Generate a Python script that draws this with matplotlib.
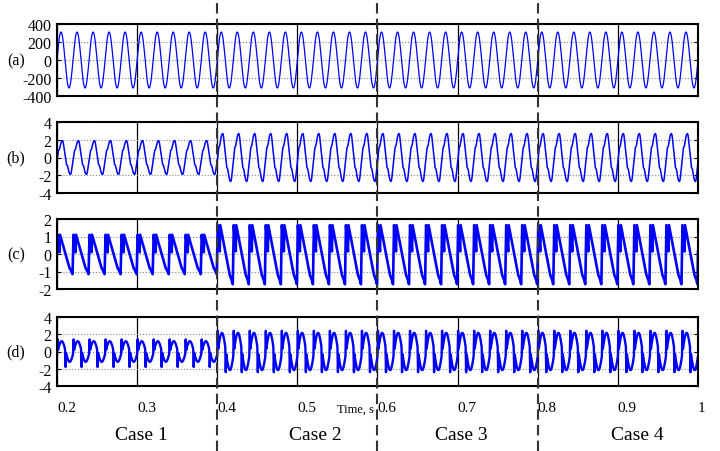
import numpy as np
import matplotlib
matplotlib.use('Agg')
import matplotlib.pyplot as plt
from matplotlib.lines import Line2D

# one 50 Hz cycle, 32 samples (case 1 shape)
f0 = 50.0
spc = 32
ncyc = 40
va_cycle = [0, 61, 119, 173, 220, 258, 287, 305, 311, 305, 287, 258, 220, 173, 119, 61,
            0, -61, -119, -173, -220, -258, -287, -305, -311, -305, -287, -258, -220, -173, -119, -61]
ib_cycle = [-0.35, 0, 0.45, 0.8, 0.85, 0.95, 1.2, 1.45, 1.65, 1.8, 1.88, 1.9, 1.8, 1.5, 1.1, 0.7,
            0.35, 0, -0.45, -0.8, -0.85, -0.95, -1.2, -1.45, -1.65, -1.8, -1.88, -1.9, -1.8, -1.5, -1.1, -0.7]
ic_cycle = [0.1, 1.1, 0.85, 0.6, 0.35, 0.1, 1.1, 1.0, 0.9, 0.8, 0.7, 0.6, 0.5, 0.4, 0.3, 0.2,
            0.1, 0.0, -0.1, -0.2, -0.3, -0.4, -0.5, -0.6, -0.7, -0.8, -0.85, -0.9, -0.95, -1.0, -1.1, -1.15]
id_cycle = [-0.30, -0.07, 0.17, 0.40, 0.61, 0.80, 0.96, 1.08, 1.16, 1.20, 1.19, 1.13, 1.03, 0.89, 0.72, 0.52,
            0.30, 0.07, -0.17, -0.40, -0.61, -0.80, -0.96, -1.08, -1.16, -1.20, -1.19, -1.13, -1.03, -0.89, -0.72, -0.52]
# switching spikes in (d): sample index in the cycle and peak value per case
id_spike_k = [1, 17]
id_spike = [[1.4, -1.8], [2.4, -2.4], [2.4, -2.4], [2.4, -2.4]]

# gain of each case relative to case 1
va_gain = [1.0, 1.0, 1.0, 1.0]
ib_gain = [1.0, 1.42, 1.42, 1.42]
ic_gain = [1.0, 1.5, 1.5, 1.5]
id_gain = [1.0, 1.8, 1.8, 1.8]

cases = ['Case 1', 'Case 2', 'Case 3', 'Case 4']
case_x = [0.305, 0.522, 0.705, 0.924]
case_edges = [0.4, 0.6, 0.8]
xticks = [0.2, 0.3, 0.4, 0.5, 0.6, 0.7, 0.8, 0.9, 1.0]
xticklabels = ['0.2', '0.3', '0.4', '0.5', '0.6', '0.7', '0.8', '0.9', '1']
panels = ['(a)', '(b)', '(c)', '(d)']
yticks = [[-400, -200, 0, 200, 400], [-4, -2, 0, 2, 4], [-2, -1, 0, 1, 2], [-4, -2, 0, 2, 4]]

t = 0.2 + np.arange(ncyc * spc + 1) / (f0 * spc)
k = np.arange(len(t)) % spc
case = np.minimum(((t - 0.2) / 0.2).astype(int), 3)

def wave(cycle, gain):
    return np.array(cycle)[k] * np.array(gain)[case]

vd = wave(id_cycle, id_gain)
for j, ks in enumerate(id_spike_k):
    m = k == ks
    vd[m] = np.array(id_spike)[case[m], j]

waves = [wave(va_cycle, va_gain), wave(ib_cycle, ib_gain), wave(ic_cycle, ic_gain), vd]
lws = [0.9, 1.1, 1.9, 1.7]

plt.rcParams['font.family'] = ['Liberation Serif', 'DejaVu Serif']
plt.rcParams['axes.unicode_minus'] = False
fig = plt.figure(figsize=(7.2, 4.52), dpi=100)

left, width = 57 / 720, 641 / 720
boxes = [(25, 97), (123, 194), (220, 290), (318, 387)]
axes = []
for i, (top, bot) in enumerate(boxes):
    ax = fig.add_axes([left, 1 - bot / 452, width, (bot - top) / 452])
    ax.plot(t, waves[i], color='#0000ff', lw=lws[i])
    ax.set_xlim(0.2, 1.0)
    ax.set_ylim(yticks[i][0], yticks[i][-1])
    ax.set_yticks(yticks[i])
    ax.set_xticks(xticks)
    ax.xaxis.grid(True, color='black', lw=0.9, ls='-')
    ax.yaxis.grid(True, color='#888888', lw=0.8, ls=':')
    ax.set_axisbelow(True)
    for s in ax.spines.values():
        s.set_linewidth(1.5)
    ax.tick_params(axis='y', direction='in', length=3, right=True, pad=4, labelsize=11.5)
    ax.tick_params(axis='x', length=0)
    if i < 3:
        ax.set_xticklabels([])
    else:
        ax.set_xticklabels(xticklabels, ha='left')
        ax.tick_params(axis='x', pad=11, labelsize=11)
    fig.text(0.022, 1 - (top + bot) / 2 / 452, panels[i], ha='center', va='center', fontsize=11.5)
    axes.append(ax)

fig.text(355 / 720, 1 - 410 / 452, 'Time, s', ha='center', va='center', fontsize=9)
for name, xc in zip(cases, case_x):
    fig.text(left + (xc - 0.2) / 0.8 * width, 1 - 436 / 452, name, ha='center', va='center', fontsize=14)

for xe in case_edges:
    xf = left + (xe - 0.2) / 0.8 * width
    fig.add_artist(Line2D([xf, xf], [0.0, 0.995], transform=fig.transFigure,
                          color='#333333', lw=1.5, ls=(0, (5, 2.5))))

fig.savefig('out.png', dpi=100)
